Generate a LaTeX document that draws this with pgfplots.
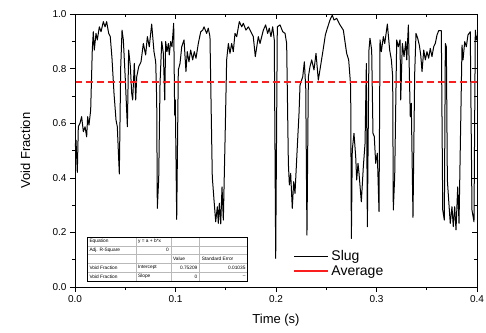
\documentclass[border=0pt]{standalone}
\usepackage{fontspec}
\setmainfont{Liberation Sans}
\usepackage{pgfplots}
\pgfplotsset{compat=1.18}
\usetikzlibrary{calc}
\definecolor{avgred}{RGB}{250,30,30}
\newcommand{\tbl}{\fontsize{4.8}{5}\selectfont}
\begin{document}
\begin{tikzpicture}
\begin{axis}[
  name=main,
  scale only axis, width=402pt, height=273pt,
  xmin=0, xmax=0.4, ymin=0, ymax=1,
  xtick={0,0.1,0.2,0.3,0.4}, ytick={0,0.2,0.4,0.6,0.8,1.0},
  minor x tick num=1, minor y tick num=1,
  tick align=outside, tick pos=left,
  major tick length=5pt, minor tick length=3pt,
  tick style={black, line width=0.6pt},
  axis line style={line width=0.8pt},
  scaled ticks=false,
  /pgf/number format/assume math mode=true,
  /pgf/number format/fixed, /pgf/number format/fixed zerofill, /pgf/number format/precision=1,
  ticklabel style={font=\fontsize{10}{12}\selectfont},
  xlabel={Time (s)}, ylabel={Void Fraction},
  every axis x label/.style={at={(rel axis cs:0.5,-0.121)}, anchor=center, font=\fontsize{13}{15}\selectfont},
  every axis y label/.style={at={(rel axis cs:-0.123,0.5)}, anchor=center, rotate=90, font=\fontsize{13}{15}\selectfont},
  legend style={at={(0.535,0.150)}, anchor=north west, draw=none, fill=none, font=\fontsize{14}{16}\selectfont},
  legend cell align=left,
  legend image code/.code={\draw[#1] (0cm,0cm) -- (1.2cm,0cm);},
]
\addplot[black, line width=1pt, line join=round] coordinates {
(0.0000,0.514) (0.0010,0.538) (0.0023,0.420) (0.0033,0.587) (0.0050,0.600)
(0.0066,0.624) (0.0083,0.569) (0.0100,0.587) (0.0116,0.550) (0.0126,0.624)
(0.0139,0.593) (0.0156,0.648) (0.0172,0.868) (0.0182,0.935) (0.0192,0.868)
(0.0209,0.929) (0.0222,0.905) (0.0242,0.953) (0.0259,0.935) (0.0282,0.972)
(0.0299,0.953) (0.0315,0.972) (0.0335,0.929) (0.0351,0.917) (0.0368,0.838)
(0.0388,0.710) (0.0408,0.612) (0.0421,0.587) (0.0441,0.414) (0.0455,0.807)
(0.0468,0.941) (0.0481,0.905) (0.0501,0.758) (0.0521,0.587) (0.0534,0.868)
(0.0551,0.807) (0.0564,0.710) (0.0574,0.685) (0.0590,0.819) (0.0604,0.685)
(0.0614,0.770) (0.0634,0.807) (0.0657,0.825) (0.0680,0.892) (0.0703,0.850)
(0.0720,0.917) (0.0739,0.880) (0.0763,0.963) (0.0786,0.862) (0.0803,0.825)
(0.0813,0.685) (0.0819,0.288) (0.0833,0.398) (0.0846,0.746) (0.0863,0.899)
(0.0879,0.856) (0.0893,0.685) (0.0902,0.899) (0.0915,0.862) (0.0929,0.892)
(0.0938,0.850) (0.0952,0.899) (0.0965,0.880) (0.0982,0.966) (0.0992,0.630)
(0.0998,0.685) (0.1012,0.248) (0.1028,0.795) (0.1045,0.819) (0.1062,0.880)
(0.1085,0.905) (0.1104,0.789) (0.1117,0.862) (0.1134,0.825) (0.1151,0.868)
(0.1171,0.832) (0.1187,0.862) (0.1204,0.838) (0.1227,0.892) (0.1251,0.935)
(0.1271,0.941) (0.1284,0.953) (0.1310,0.929) (0.1326,0.948) (0.1343,0.917)
(0.1366,0.404) (0.1383,0.319) (0.1400,0.239) (0.1416,0.294) (0.1426,0.233)
(0.1436,0.307) (0.1450,0.231) (0.1463,0.367) (0.1476,0.245) (0.1493,0.538)
(0.1509,0.832) (0.1526,0.892) (0.1542,0.856) (0.1559,0.892) (0.1575,0.862)
(0.1592,0.929) (0.1609,0.917) (0.1635,0.972) (0.1659,0.953) (0.1675,0.966)
(0.1701,0.941) (0.1725,0.953) (0.1758,0.929) (0.1774,0.917) (0.1794,0.844)
(0.1824,0.917) (0.1841,0.892) (0.1874,0.941) (0.1897,0.960) (0.1917,0.929)
(0.1933,0.948) (0.1950,0.917) (0.1967,0.953) (0.1983,0.905) (0.1997,0.105)
(0.2013,0.953) (0.2040,0.960) (0.2067,0.935) (0.2090,0.929) (0.2106,0.892)
(0.2123,0.453) (0.2133,0.374) (0.2146,0.416) (0.2162,0.288) (0.2176,0.386)
(0.2189,0.343) (0.2212,0.514) (0.2229,0.636) (0.2239,0.740) (0.2266,0.770)
(0.2282,0.825) (0.2296,0.728) (0.2308,0.190) (0.2322,0.770) (0.2338,0.807)
(0.2355,0.832) (0.2378,0.795) (0.2398,0.856) (0.2421,0.758) (0.2445,0.813)
(0.2471,0.874) (0.2491,0.923) (0.2511,0.948) (0.2537,0.978) (0.2560,0.996)
(0.2577,0.978) (0.2604,0.984) (0.2637,0.960) (0.2670,0.941) (0.2703,0.856)
(0.2723,0.832) (0.2736,0.770) (0.2743,0.734) (0.2750,0.178) (0.2759,0.502)
(0.2776,0.563) (0.2793,0.477) (0.2803,0.392) (0.2816,0.453) (0.2826,0.416)
(0.2849,0.312) (0.2869,0.441) (0.2886,0.526) (0.2899,0.819) (0.2909,0.221)
(0.2925,0.868) (0.2935,0.911) (0.2952,0.868) (0.2965,0.563) (0.2978,0.551)
(0.2992,0.453) (0.3008,0.490) (0.3025,0.276) (0.3035,0.905) (0.3048,0.862)
(0.3068,0.917) (0.3082,0.892) (0.3108,0.963) (0.3131,0.868) (0.3148,0.832)
(0.3161,0.770) (0.3167,0.282) (0.3181,0.404) (0.3201,0.905) (0.3217,0.880)
(0.3234,0.905) (0.3241,0.685) (0.3257,0.892) (0.3274,0.844) (0.3291,0.899)
(0.3301,0.832) (0.3317,0.960) (0.3336,0.624) (0.3346,0.673) (0.3363,0.255)
(0.3380,0.783) (0.3393,0.929) (0.3410,0.911) (0.3426,0.886) (0.3440,0.850)
(0.3453,0.789) (0.3470,0.868) (0.3486,0.832) (0.3502,0.862) (0.3519,0.838)
(0.3535,0.874) (0.3552,0.844) (0.3569,0.880) (0.3585,0.892) (0.3602,0.923)
(0.3619,0.939) (0.3645,0.939) (0.3659,0.282) (0.3675,0.245) (0.3685,0.892)
(0.3695,0.880) (0.3705,0.392) (0.3718,0.319) (0.3734,0.233) (0.3751,0.294)
(0.3764,0.221) (0.3778,0.294) (0.3791,0.209) (0.3808,0.367) (0.3821,0.233)
(0.3851,0.886) (0.3861,0.832) (0.3878,0.899) (0.3894,0.880) (0.3910,0.923)
(0.3933,0.935) (0.3950,0.282) (0.3970,0.239) (0.3983,0.941) (0.3993,0.905)
(0.4000,0.920)
};
\addlegendentry{Slug}
\addplot[draw=avgred, line width=2pt, dash pattern=on 7pt off 4pt, forget plot] coordinates {(0,0.75209) (0.4,0.75209)};
\addlegendimage{draw=avgred, line width=2pt}
\addlegendentry{Average}
% fit table
\fill[white] (rel axis cs:0.0306,0.022) rectangle (rel axis cs:0.4296,0.1832);
\draw[gray!55, line width=0.4pt]
  (rel axis cs:0.0306,0.1509) -- (rel axis cs:0.4296,0.1509)
  (rel axis cs:0.0306,0.1187) -- (rel axis cs:0.4296,0.1187)
  (rel axis cs:0.0306,0.0864) -- (rel axis cs:0.4296,0.0864)
  (rel axis cs:0.0306,0.0542) -- (rel axis cs:0.4296,0.0542)
  (rel axis cs:0.1515,0.022) -- (rel axis cs:0.1515,0.1832)
  (rel axis cs:0.2386,0.022) -- (rel axis cs:0.2386,0.1832)
  (rel axis cs:0.3100,0.022) -- (rel axis cs:0.3100,0.1832);
\draw[black, line width=0.6pt] (rel axis cs:0.0306,0.022) rectangle (rel axis cs:0.4296,0.1832);
\node[anchor=west, font=\tbl, inner sep=0pt] at (rel axis cs:0.0356,0.1671) {Equation};
\node[anchor=west, font=\tbl, inner sep=0pt] at (rel axis cs:0.1565,0.1671) {y = a + b*x};
\node[anchor=west, font=\tbl, inner sep=0pt] at (rel axis cs:0.0356,0.1348) {Adj. R-Square};
\node[anchor=east, font=\tbl, inner sep=0pt] at (rel axis cs:0.2336,0.1348) {0};
\node[anchor=west, font=\tbl, inner sep=0pt] at (rel axis cs:0.2436,0.1026) {Value};
\node[anchor=west, font=\tbl, inner sep=0pt] at (rel axis cs:0.3150,0.1026) {Standard Error};
\node[anchor=west, font=\tbl, inner sep=0pt] at (rel axis cs:0.0356,0.0703) {Void Fraction};
\node[anchor=west, font=\tbl, inner sep=0pt] at (rel axis cs:0.1565,0.0703) {Intercept};
\node[anchor=east, font=\tbl, inner sep=0pt] at (rel axis cs:0.3050,0.0703) {0.75209};
\node[anchor=east, font=\tbl, inner sep=0pt] at (rel axis cs:0.4246,0.0703) {0.01035};
\node[anchor=west, font=\tbl, inner sep=0pt] at (rel axis cs:0.0356,0.0381) {Void Fraction};
\node[anchor=west, font=\tbl, inner sep=0pt] at (rel axis cs:0.1565,0.0381) {Slope};
\node[anchor=east, font=\tbl, inner sep=0pt] at (rel axis cs:0.3050,0.0381) {0};
\node[anchor=east, font=\tbl, inner sep=0pt] at (rel axis cs:0.4246,0.0381) {--};
\end{axis}
\begin{axis}[
  scale only axis, width=402pt, height=273pt,
  xmin=0, xmax=0.4, ymin=0, ymax=1,
  xtick={0,0.1,0.2,0.3,0.4}, ytick={0,0.2,0.4,0.6,0.8,1.0},
  minor x tick num=1, minor y tick num=1,
  tick align=inside, tick pos=right,
  major tick length=5pt, minor tick length=3pt,
  tick style={black, line width=0.6pt},
  axis line style={line width=0.8pt},
  xticklabels={}, yticklabels={},
]
\end{axis}
\pgfresetboundingbox
\path ($(main.south west)+(-75pt,-45pt)$) rectangle ($(main.north east)+(9pt,14pt)$);
\end{tikzpicture}
\end{document}
